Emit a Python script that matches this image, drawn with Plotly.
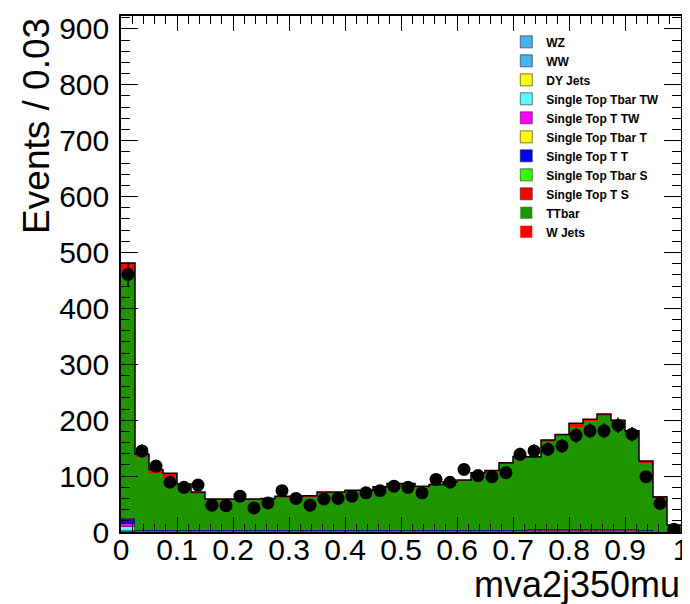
import numpy as np
import plotly.graph_objects as go

# ---- binning (40 bins on [0,1]) ----
bin_edges = np.linspace(0.0, 1.0, 41)
bin_centers = 0.5 * (bin_edges[:-1] + bin_edges[1:])
bin_width = bin_edges[1] - bin_edges[0]

x_tick_vals = [0, 0.1, 0.2, 0.3, 0.4, 0.5, 0.6, 0.7, 0.8, 0.9, 1.0]
x_tick_text = ["0", "0.1", "0.2", "0.3", "0.4", "0.5", "0.6", "0.7", "0.8", "0.9", "1"]

# ---- stacked MC components (bottom -> top) ----
wz = [0.5,0.1,0.1,0.1,0.1,0.1,0.1,0.1,0.1,0.1, 0.1,0.1,0.1,0.1,0.1,0.1,0.1,0.1,0.1,0.1,
      0.1,0.1,0.1,0.1,0.1,0.1,0.1,0.1,0.1,0.1, 0.1,0.1,0.1,0.1,0.1,0.1,0.1,0.1,0.1,0.0]
ww = [0.8,0.3,0.3,0.3,0.3,0.3,0.3,0.3,0.3,0.3, 0.3,0.3,0.3,0.3,0.3,0.3,0.3,0.3,0.3,0.3,
      0.3,0.3,0.3,0.3,0.3,0.3,0.3,0.3,0.3,0.3, 0.3,0.3,0.3,0.3,0.3,0.3,0.3,0.3,0.2,0.1]
dy_jets = [1.2,0.4,0.4,0.4,0.4,0.4,0.4,0.4,0.4,0.4, 0.4,0.4,0.4,0.4,0.4,0.4,0.4,0.4,0.4,0.4,
           0.4,0.4,0.4,0.4,0.4,0.4,0.4,0.4,0.4,0.4, 0.4,0.4,0.4,0.4,0.4,0.4,0.4,0.4,0.3,0.1]
st_tbar_tw = [6.0,0.6,0.6,0.6,0.6,0.6,0.6,0.6,0.6,0.6, 0.6,0.6,0.6,0.6,0.6,0.6,0.6,0.6,0.6,0.6,
              0.6,0.6,0.6,0.6,0.6,0.6,0.6,0.6,0.6,1.0, 1.0,1.0,1.0,1.0,1.0,1.0,1.0,0.6,0.5,0.2]
st_t_tw = [5.0,0.6,0.6,0.6,0.6,0.6,0.6,0.6,0.6,0.6, 0.6,0.6,0.6,0.6,0.6,0.6,0.6,0.6,0.6,0.6,
           0.6,0.6,0.6,0.6,0.6,0.6,0.6,0.6,0.6,1.0, 1.0,1.0,1.0,1.0,1.0,1.0,1.0,0.6,0.4,0.2]
st_tbar_t = [1.0,0.3,0.3,0.3,0.3,0.3,0.3,0.3,0.3,0.3, 0.3,0.3,0.3,0.3,0.3,0.3,0.3,0.3,0.3,0.3,
             0.3,0.3,0.3,0.3,0.3,0.3,0.3,0.3,0.3,0.3, 0.3,0.3,0.3,0.3,0.3,0.3,0.3,0.3,0.2,0.1]
st_t_t = [8.0,0.6,0.6,0.6,0.6,0.6,0.6,0.6,0.6,0.6, 0.6,0.6,0.6,0.6,0.6,0.6,0.6,0.6,0.6,0.6,
          0.6,0.6,0.6,0.6,0.6,0.6,0.6,0.6,0.6,1.0, 1.0,1.0,1.0,1.0,1.0,1.0,1.0,0.6,0.3,0.2]
st_tbar_s = [1.0,0.2,0.2,0.2,0.2,0.2,0.2,0.2,0.2,0.2, 0.2,0.2,0.2,0.2,0.2,0.2,0.2,0.2,0.2,0.2,
             0.2,0.2,0.2,0.2,0.2,0.2,0.2,0.2,0.2,0.2, 0.2,0.2,0.2,0.2,0.2,0.2,0.2,0.2,0.1,0.0]
st_t_s = [1.5,0.3,0.3,0.3,0.3,0.3,0.3,0.3,0.3,0.3, 0.3,0.3,0.3,0.3,0.3,0.3,0.3,0.3,0.3,0.3,
          0.3,0.3,0.3,0.3,0.3,0.3,0.3,0.3,0.3,0.3, 0.3,0.3,0.3,0.3,0.3,0.3,0.3,0.3,0.2,0.1]
ttbar = [441,131,102.5,95.5,80,65,54,54,54,54, 55,59,59,60,66.5,66.5,70,70,76,82,
         82,77,80,85,88,101,104.5,118.5,129.5,128, 158,168,183,195,204.5,193.5,174.5,121.5,59.5,11]
w_jets = [15,5,6,6,2.5,3,1.5,1.5,1.5,1.5, 1.5,1.5,1.5,1.5,1.5,1.5,1.5,1.5,1.5,1.5,
          1.5,1.5,1.5,1.5,1.5,1.5,2,2,2,2, 2,2,7,2,2,2,2,2,1,0.5]

# ---- observed data ----
data_counts = [461,145,118,89,80,84,48,47,64,43, 52,74,60,48,59,60,64,70,74,82,
               80,70,94,89,112,101,99,106,139,145, 148,154,173,181,181,191,175,99,51,5]

components = [
    ("WZ", wz, "#47b4f0"),
    ("WW", ww, "#47b4f0"),
    ("DY Jets", dy_jets, "#ffff00"),
    ("Single Top Tbar TW", st_tbar_tw, "#55ffff"),
    ("Single Top T TW", st_t_tw, "#ff00ff"),
    ("Single Top Tbar T", st_tbar_t, "#ffff00"),
    ("Single Top T T", st_t_t, "#0000ff"),
    ("Single Top Tbar S", st_tbar_s, "#33ff00"),
    ("Single Top T S", st_t_s, "#ff0000"),
    ("TTbar", ttbar, "#1f9600"),
    ("W Jets", w_jets, "#ff0000"),
]

FONT = "Liberation Sans, Arial, Helvetica, sans-serif"

fig = go.Figure()
for name, vals, col in components:
    big = name in ("TTbar", "W Jets")
    fig.add_trace(go.Bar(
        x=bin_centers, y=vals, width=bin_width, name=name,
        marker=dict(color=col, line=dict(color="#222222", width=0 if big else 0.6)),
        hoverinfo="skip",
    ))

# total outline
total = np.sum([np.array(c[1], dtype=float) for c in components], axis=0)
fig.add_trace(go.Scatter(
    x=bin_edges, y=np.append(total, total[-1]), mode="lines",
    line=dict(color="black", width=1.5, shape="hv"),
    showlegend=False, hoverinfo="skip",
))

# data points
fig.add_trace(go.Scatter(
    x=bin_centers, y=data_counts, mode="markers",
    marker=dict(color="black", size=13),
    error_y=dict(type="data", array=np.sqrt(data_counts), width=0, thickness=1.5, color="black"),
    showlegend=False,
))

# the page body has an 8px margin, so the figure is sized to the remaining area
fig.update_layout(
    width=682, height=596,
    margin=dict(l=113, r=9, t=8, b=72, autoexpand=False),
    paper_bgcolor="white", plot_bgcolor="white",
    barmode="stack", bargap=0,
    font=dict(family=FONT, color="black"),
    legend=dict(x=0.688, y=0.978, xanchor="left", yanchor="top",
                traceorder="normal", bgcolor="rgba(0,0,0,0)",
                font=dict(size=12, family=FONT, color="black", weight="bold")),
    showlegend=True,
)

fig.update_xaxes(
    range=[0, 1], tickmode="array", tickvals=x_tick_vals, ticktext=x_tick_text,
    ticks="inside", ticklen=15, tickwidth=1, tickcolor="black",
    minor=dict(ticks="inside", ticklen=8, dtick=0.02, tick0=0, tickcolor="black", showgrid=False),
    showline=True, linecolor="black", linewidth=1.5, mirror="allticks",
    showgrid=False, zeroline=False, automargin=False, tickangle=0,
    tickfont=dict(size=30, family=FONT, color="black"),
    ticklabelstandoff=-10,
)
fig.update_yaxes(
    range=[0, 923], dtick=100, tick0=0,
    ticks="inside", ticklen=17, tickwidth=1, tickcolor="black",
    minor=dict(ticks="inside", ticklen=9, dtick=20, tickcolor="black", showgrid=False),
    showline=True, linecolor="black", linewidth=1.5, mirror="allticks",
    showgrid=False, zeroline=False, automargin=False,
    tickfont=dict(size=30, family=FONT, color="black"),
    ticklabelstandoff=4,
)

fig.add_annotation(text="mva2j350mu", xref="paper", yref="paper", x=1.0, y=-0.0605,
                   xanchor="right", yanchor="top", showarrow=False, borderpad=0,
                   font=dict(size=36, family=FONT, color="black"))
fig.add_annotation(text="Events / 0.03", xref="paper", yref="paper", x=-0.152, y=1.0,
                   xanchor="center", yanchor="top", textangle=-90, showarrow=False,
                   font=dict(size=37, family=FONT, color="black"))

fig.write_html("out.html")
